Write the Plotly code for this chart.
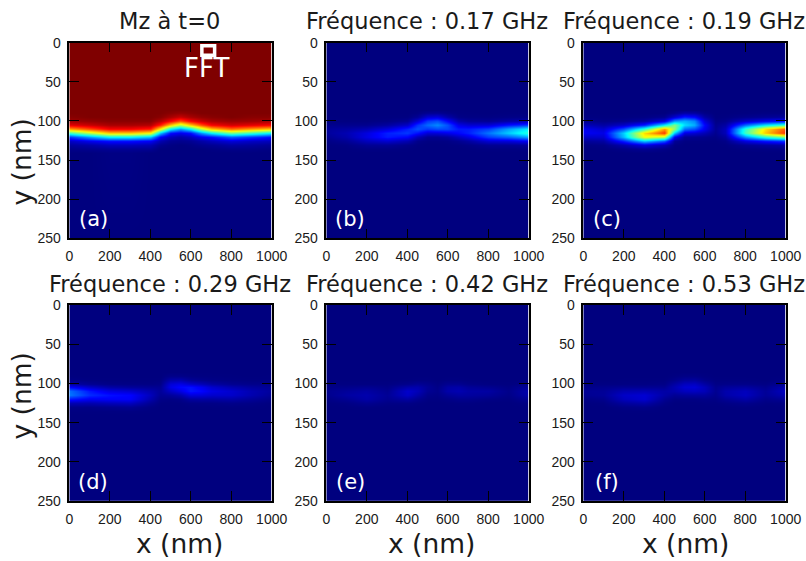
import numpy as np
import plotly.graph_objects as go

# Column positions (nm) and band rows (nm)
x_cols = [0, 100, 200, 300, 400, 450, 500, 550, 600, 650, 700, 800, 900, 1000]
y_rows_a = [85, 90, 95, 100, 105, 110, 115, 120, 125, 130, 135, 140]
y_rows = [90, 95, 100, 105, 110, 115, 120, 125, 130, 135]

# Each line is one column x, top to bottom along the band rows
mz_a = [
    [1, 1, .99, .97, .90, .72, .44, .18, .07, .03, .01, 0],
    [1, 1, 1, .98, .93, .80, .56, .28, .11, .04, .015, 0],
    [1, 1, 1, .99, .96, .88, .68, .375, .14, .06, .02, .005],
    [1, 1, 1, .99, .96, .88, .68, .375, .14, .06, .02, .005],
    [1, 1, 1, .99, .95, .85, .63, .32, .12, .05, .02, 0],
    [1, 1, .99, .95, .85, .63, .32, .12, .05, .015, 0, 0],
    [1, .99, .96, .88, .68, .375, .14, .06, .02, .005, 0, 0],
    [1, .98, .93, .80, .56, .28, .11, .04, .015, 0, 0, 0],
    [1, .99, .96, .88, .68, .375, .14, .06, .02, .005, 0, 0],
    [1, 1, .98, .93, .80, .56, .28, .11, .04, .015, 0, 0],
    [1, 1, .99, .96, .88, .68, .375, .14, .06, .02, .005, 0],
    [1, 1, 1, .975, .92, .77, .50, .22, .09, .035, .01, 0],
    [1, 1, .99, .97, .90, .72, .44, .18, .07, .03, .01, 0],
    [1, 1, .99, .96, .88, .68, .375, .14, .06, .02, .005, 0],
]
fft_b = [
    [0, .001, .004, .015, .028, .029, .018, .006, .001, 0],
    [0, 0, .003, .014, .034, .05, .043, .021, .005, .001],
    [0, 0, .003, .015, .05, .093, .097, .06, .021, .005],
    [0, .001, .007, .032, .09, .155, .15, .08, .023, .005],
    [0, .003, .019, .071, .155, .18, .125, .05, .01, .002],
    [.004, .022, .084, .172, .205, .14, .056, .012, .002, 0],
    [.018, .08, .178, .23, .18, .085, .02, .004, 0, 0],
    [.02, .09, .2, .26, .2, .09, .02, .004, 0, 0],
    [.009, .042, .125, .205, .195, .105, .03, .006, .001, 0],
    [.002, .009, .042, .102, .149, .129, .063, .017, .003, 0],
    [.001, .005, .024, .08, .149, .155, .096, .034, .007, .001],
    [0, .004, .019, .084, .185, .24, .185, .084, .019, .004],
    [.001, .007, .036, .139, .284, .327, .224, .092, .02, .004],
    [.001, .008, .046, .176, .361, .416, .286, .118, .025, .005],
]
fft_c = [
    [0, .004, .018, .06, .11, .116, .072, .025, .005, 0],
    [0, .0015, .008, .035, .077, .1, .077, .035, .008, .0015],
    [0, .002, .014, .07, .2, .33, .31, .16, .045, .009],
    [0, .005, .03, .15, .42, .66, .62, .33, .1, .02],
    [0, .016, .09, .36, .72, .82, .56, .22, .05, .008],
    [.015, .08, .27, .5, .52, .33, .115, .022, .004, 0],
    [.038, .147, .3, .346, .238, .098, .021, .004, 0, 0],
    [.033, .126, .258, .297, .204, .084, .018, .003, 0, 0],
    [.008, .036, .088, .129, .112, .055, .014, .003, 0, 0],
    [0, .001, .007, .015, .02, .015, .007, .001, 0, 0],
    [0, .003, .013, .036, .058, .056, .03, .009, .002, 0],
    [.002, .014, .068, .225, .42, .44, .27, .095, .02, .004],
    [.004, .021, .105, .35, .65, .68, .42, .147, .03, .006],
    [.004, .026, .128, .425, .79, .825, .51, .18, .038, .007],
]
fft_d = [
    [.001, .008, .038, .125, .233, .243, .15, .053, .011, .002],
    [0, .003, .019, .071, .146, .168, .116, .048, .01, .002],
    [0, .001, .008, .039, .095, .139, .12, .059, .015, .003],
    [0, .001, .006, .027, .078, .126, .121, .065, .02, .004],
    [0, .001, .005, .021, .046, .06, .046, .021, .005, .001],
    [0, .002, .009, .019, .025, .019, .009, .002, 0, 0],
    [.011, .042, .086, .099, .068, .028, .006, .001, 0, 0],
    [.01, .046, .1, .13, .1, .046, .01, .002, 0, 0],
    [.005, .023, .075, .14, .146, .09, .032, .007, .001, 0],
    [.003, .014, .055, .112, .129, .088, .036, .008, .001, 0],
    [.002, .008, .035, .077, .1, .077, .035, .008, .002, 0],
    [.001, .004, .017, .048, .078, .074, .04, .012, .002, 0],
    [0, .002, .011, .03, .049, .047, .025, .008, .002, 0],
    [.001, .002, .011, .023, .03, .023, .011, .002, 0, 0],
]
fft_e = [
    [0, 0, .003, .009, .017, .014, .006, .001, 0, 0],
    [0, 0, .003, .012, .026, .034, .02, .006, .001, 0],
    [0, 0, .003, .018, .036, .045, .04, .018, .004, 0],
    [0, 0, .003, .009, .017, .022, .018, .007, .001, 0],
    [0, .001, .012, .042, .075, .07, .035, .008, .001, 0],
    [0, .003, .021, .045, .056, .04, .017, .004, 0, 0],
    [0, .003, .014, .022, .021, .011, .004, 0, 0, 0],
    [0, 0, .004, .008, .011, .007, .003, 0, 0, 0],
    [0, .003, .017, .035, .042, .024, .008, .001, 0, 0],
    [0, .003, .017, .04, .05, .034, .014, .003, 0, 0],
    [0, .001, .008, .025, .038, .031, .014, .003, 0, 0],
    [0, 0, .003, .017, .035, .025, .007, 0, 0, 0],
    [0, 0, .001, .006, .011, .008, .003, 0, 0, 0],
    [0, .001, .008, .028, .045, .042, .02, .006, .001, 0],
]
fft_f = [
    [0, 0, .003, .012, .022, .018, .006, .001, 0, 0],
    [0, 0, .004, .014, .023, .025, .013, .004, 0, 0],
    [0, .001, .004, .02, .048, .07, .06, .03, .008, .001],
    [0, .001, .005, .02, .052, .082, .08, .042, .012, .002],
    [0, .002, .008, .02, .038, .038, .02, .008, .001, 0],
    [.003, .012, .035, .05, .045, .022, .006, 0, 0, 0],
    [.008, .028, .062, .08, .062, .028, .006, .001, 0, 0],
    [.008, .03, .066, .085, .066, .03, .006, .001, 0, 0],
    [.003, .012, .036, .058, .056, .03, .009, .002, 0, 0],
    [0, .002, .007, .014, .018, .014, .007, .002, 0, 0],
    [0, .002, .009, .027, .044, .042, .022, .007, .001, 0],
    [0, .002, .01, .033, .06, .063, .04, .014, .003, 0],
    [0, 0, .005, .015, .024, .023, .012, .004, 0, 0],
    [.001, .005, .023, .05, .065, .05, .023, .005, .001, 0],
]

titles = ["Mz à t=0", "Fréquence : 0.17 GHz", "Fréquence : 0.19 GHz",
          "Fréquence : 0.29 GHz", "Fréquence : 0.42 GHz", "Fréquence : 0.53 GHz"]
tags = ["(a)", "(b)", "(c)", "(d)", "(e)", "(f)"]
panels = [mz_a, fft_b, fft_c, fft_d, fft_e, fft_f]
x_ticks = [0, 200, 400, 600, 800, 1000]
y_ticks = [0, 50, 100, 150, 200, 250]
fft_box_x = [655, 718]
fft_box_y = [4, 16]

W, H = 806, 561
lefts = [69.3, 326.3, 583.3]
tops = [42.7, 304.8]
pw = 202.4
heights = [195.6, 196.4]
x_label_pos = [179.5, 431.5, 685]

jet = [[0, "#00007f"], [.125, "#0000ff"], [.375, "#00ffff"],
       [.625, "#ffff00"], [.875, "#ff0000"], [1, "#7f0000"]]

fig = go.Figure()
dej = "DejaVu Sans"
lib = "Liberation Sans"
ann = []
for i, data in enumerate(panels):
    r, c = i // 3, i % 3
    suffix = "" if i == 0 else str(i + 1)
    band = np.array(data, dtype=float).T
    n = band.shape[1]
    if i == 0:
        z = np.vstack([np.ones(n), band, np.zeros(n)])
        y = [0] + y_rows_a + [250]
    else:
        z = np.vstack([np.zeros(n), np.zeros(n), band, np.zeros(n), np.zeros(n)])
        y = [0, 85] + y_rows + [140, 250]
    fig.add_trace(go.Heatmap(x=x_cols, y=y, z=z, zmin=0, zmax=1, colorscale=jet,
                             zsmooth="best", showscale=False,
                             xaxis="x" + suffix, yaxis="y" + suffix))
    common = dict(ticks="inside", ticklen=10, tickwidth=1, tickcolor="black",
                  showline=True, linecolor="black", linewidth=1.5, mirror="ticks",
                  showgrid=False, zeroline=False, ticklabelstandoff=4, automargin=False,
                  tickfont=dict(family=lib, size=14, color="#1a1a1a"))
    l, t, ph = lefts[c], tops[r], heights[r]
    fig.update_layout({
        "xaxis" + suffix: dict(domain=[l / W, (l + pw) / W], range=[0, 1000],
                               anchor="y" + suffix, tickvals=x_ticks, **common),
        "yaxis" + suffix: dict(domain=[1 - (t + ph) / H, 1 - t / H], range=[250, 0],
                               anchor="x" + suffix, tickvals=y_ticks, **common),
    })
    ann.append(dict(text=titles[i], x=l + pw / 2 - 1, y=21 if r == 0 else 284,
                    font=dict(family=dej, size=22.5, color="#1a1a1a")))
    ann.append(dict(text=tags[i], x=l + 24, y=t + ph - 19,
                    font=dict(family=dej, size=21, color="white")))
    if r == 1:
        ann.append(dict(text="x (nm)", x=x_label_pos[c], y=543,
                        font=dict(family=dej, size=26.5, color="#1a1a1a")))

ann.append(dict(text="y (nm)", x=21, y=162.5, textangle=-90,
                font=dict(family=dej, size=26.5, color="#1a1a1a")))
ann.append(dict(text="y (nm)", x=21, y=396.5, textangle=-90,
                font=dict(family=dej, size=26.5, color="#1a1a1a")))
ann.append(dict(text="FFT", x=206, y=68, font=dict(family=dej, size=26, color="white")))

annotations = [dict(a, xref="paper", yref="paper", x=a["x"] / W, y=1 - a["y"] / H,
                    xanchor="center", yanchor="middle", showarrow=False) for a in ann]

fig.update_layout(
    width=W, height=H, margin=dict(l=0, r=0, t=0, b=0),
    paper_bgcolor="white", plot_bgcolor="white", showlegend=False,
    annotations=annotations,
    shapes=[dict(type="rect", xref="x", yref="y", x0=fft_box_x[0], x1=fft_box_x[1],
                 y0=fft_box_y[0], y1=fft_box_y[1], line=dict(color="white", width=3.5))],
)
fig.write_html("out.html", post_script="document.body.style.margin='0';",
               config={"displayModeBar": False})
